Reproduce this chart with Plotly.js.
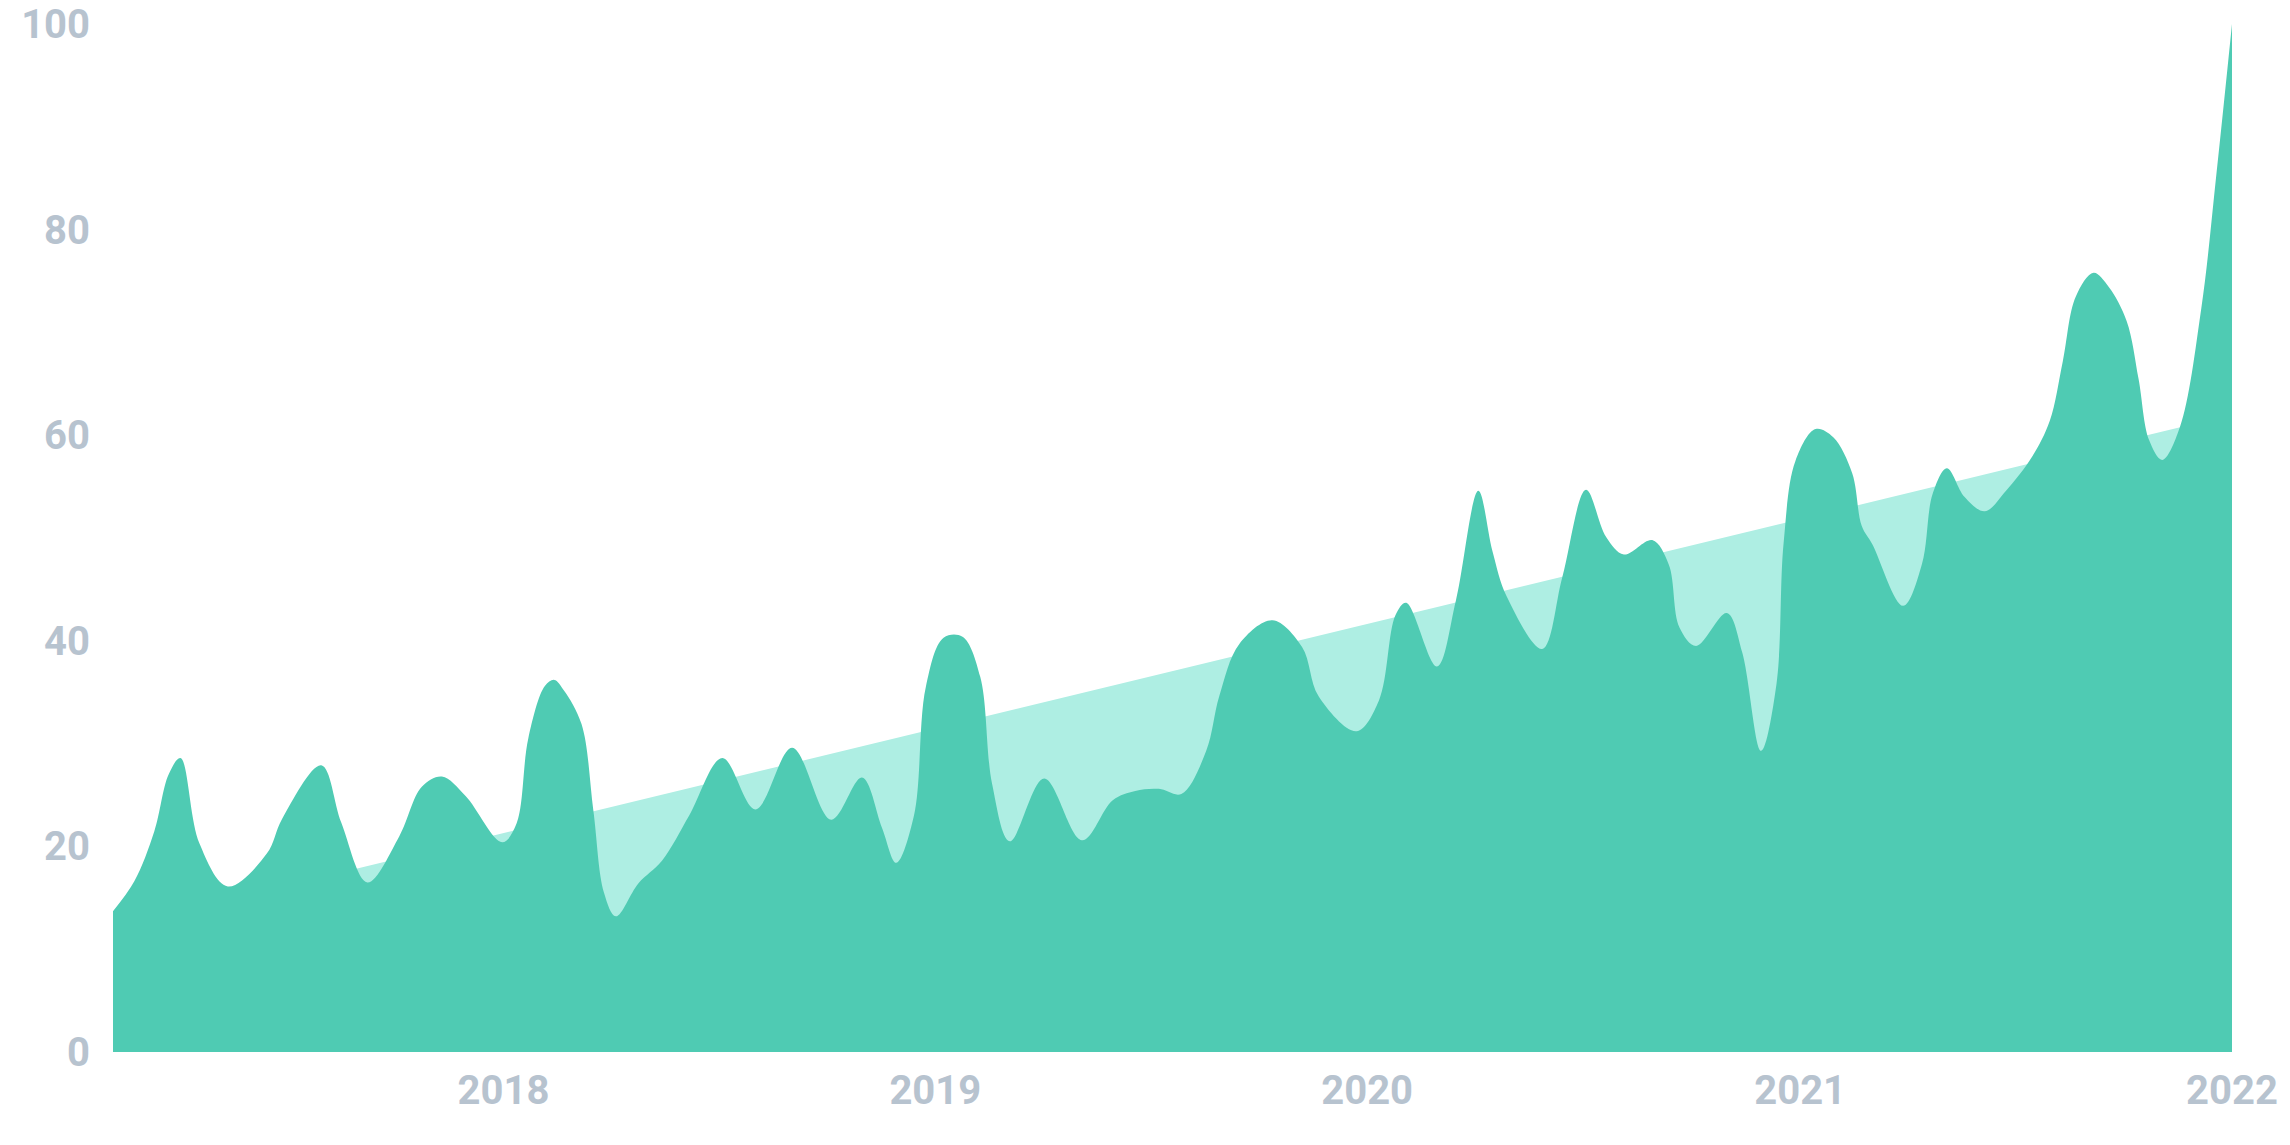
<!DOCTYPE html>
<html>
<head>
<meta charset="utf-8">
<script src="https://cdn.plot.ly/plotly-3.0.1.min.js"></script>
<style>
  html, body { margin: 0; padding: 0; background: #ffffff; }
  #chart { width: 2290px; height: 1145px; }
</style>
</head>
<body>
<div id="chart"></div>
<script>
// Interest over time (0-100)
const dates = [
  '2017-02-05','2017-02-23','2017-03-12','2017-03-24','2017-04-03','2017-04-19',
  '2017-05-13','2017-06-15','2017-06-28','2017-07-31','2017-08-17','2017-09-08',
  '2017-10-05','2017-10-24','2017-11-10','2017-11-30','2017-12-31','2018-01-12','2018-01-22',
  '2018-02-05','2018-02-13','2018-02-21','2018-03-08','2018-03-18','2018-03-27','2018-04-06',
  '2018-04-25','2018-05-15','2018-06-07','2018-07-05','2018-08-02','2018-09-02','2018-10-05',
  '2018-10-31','2018-11-17','2018-11-29','2018-12-14','2018-12-24','2019-01-08','2019-01-24',
  '2019-02-08','2019-02-18','2019-03-05','2019-04-03','2019-05-05','2019-05-31','2019-06-19',
  '2019-07-09','2019-07-28','2019-08-18','2019-08-29','2019-09-15','2019-10-13','2019-11-07',
  '2019-11-21','2019-12-23','2020-01-11','2020-01-25','2020-02-03','2020-02-29','2020-03-16',
  '2020-04-04','2020-04-16','2020-04-28','2020-05-28','2020-06-14','2020-07-04','2020-07-21',
  '2020-08-05','2020-08-29','2020-09-12','2020-09-21','2020-10-05','2020-10-31','2020-11-13',
  '2020-11-29','2020-12-12','2020-12-18','2020-12-28','2021-01-14','2021-01-29','2021-02-14',
  '2021-02-22','2021-03-03','2021-03-29','2021-04-14','2021-04-23','2021-05-05','2021-05-20',
  '2021-06-06','2021-06-24','2021-07-16','2021-07-31','2021-08-11','2021-08-22','2021-09-06',
  '2021-09-19','2021-10-04','2021-10-14','2021-10-23','2021-11-03','2021-11-18','2021-12-06',
  '2021-12-19','2022-01-01'
];
const values = [
  13.7, 16.6, 21.5, 27.0, 28.6, 20.3,
  16.1, 19.3, 22.7, 27.9, 22.3, 16.5,
  21.0, 25.8, 26.8, 24.9, 20.4, 22.2, 30.5,
  35.6, 36.2, 35.2, 31.9, 23.5, 15.5, 13.2,
  16.4, 18.6, 23.0, 28.6, 23.6, 29.6, 22.6,
  26.7, 21.8, 18.4, 23.0, 35.5, 40.3, 40.4,
  36.5, 26.1, 20.5, 26.6, 20.6, 24.5, 25.4,
  25.6, 25.1, 29.3, 34.6, 39.7, 42.0, 39.4,
  34.6, 31.2, 34.2, 42.5, 43.7, 37.5, 43.9,
  54.6, 48.7, 44.3, 39.2, 46.2, 54.7, 50.1,
  48.4, 49.8, 47.4, 41.3, 39.5, 42.7, 38.9,
  29.3, 35.8, 49.5, 57.5, 60.6, 59.8, 56.3,
  51.2, 49.4, 43.4, 47.5, 54.3, 56.8, 54.0,
  52.6, 54.6, 57.9, 61.4, 67.2, 73.5, 75.8,
  74.4, 71.1, 65.5, 59.5, 57.6, 60.8, 72.3,
  85.6, 100
];

// Linear trend
const trendDates = ['2017-02-05', '2022-01-01'];
const trendValues = [12.1, 62.0];

// Axis ticks
const xTickVals = ['2018-01-01', '2019-01-01', '2020-01-01', '2021-01-01', '2022-01-01'];
const xTickText = ['2018', '2019', '2020', '2021', '2022'];
const yTickVals = [0, 20, 40, 60, 80, 100];
const yTickText = ['0', '20', '40', '60', '80', '100'];

const labelFont = { family: 'Roboto, "Open Sans", sans-serif', size: 40, color: '#b7c3cf', weight: 700 };

const traces = [
  {
    x: trendDates, y: trendValues, type: 'scatter', mode: 'lines',
    line: { width: 0, color: '#aeeee3' },
    fill: 'tozeroy', fillcolor: '#aeeee3', hoverinfo: 'skip'
  },
  {
    x: dates, y: values, type: 'scatter', mode: 'lines',
    line: { width: 0, color: '#4fcbb3', shape: 'spline', smoothing: 1 },
    fill: 'tozeroy', fillcolor: '#4fcbb3'
  }
];

const layout = {
  width: 2290, height: 1145,
  margin: { l: 113, r: 58, t: 22, b: 93 },
  paper_bgcolor: '#ffffff', plot_bgcolor: '#ffffff',
  showlegend: false,
  xaxis: {
    type: 'date',
    range: ['2017-02-05', '2022-01-01'],
    tickvals: xTickVals, ticktext: xTickText,
    showgrid: false, zeroline: false, showline: false,
    ticks: '', ticklabelstandoff: 11, ticklabeloverflow: 'allow',
    tickfont: labelFont, fixedrange: true
  },
  yaxis: {
    range: [0, 100.2],
    tickvals: yTickVals, ticktext: yTickText,
    showgrid: false, zeroline: false, showline: false,
    ticks: '', ticklabelstandoff: 22, ticklabeloverflow: 'allow',
    tickfont: labelFont, fixedrange: true
  }
};

Plotly.newPlot('chart', traces, layout, { displayModeBar: false, staticPlot: true });
</script>
</body>
</html>
